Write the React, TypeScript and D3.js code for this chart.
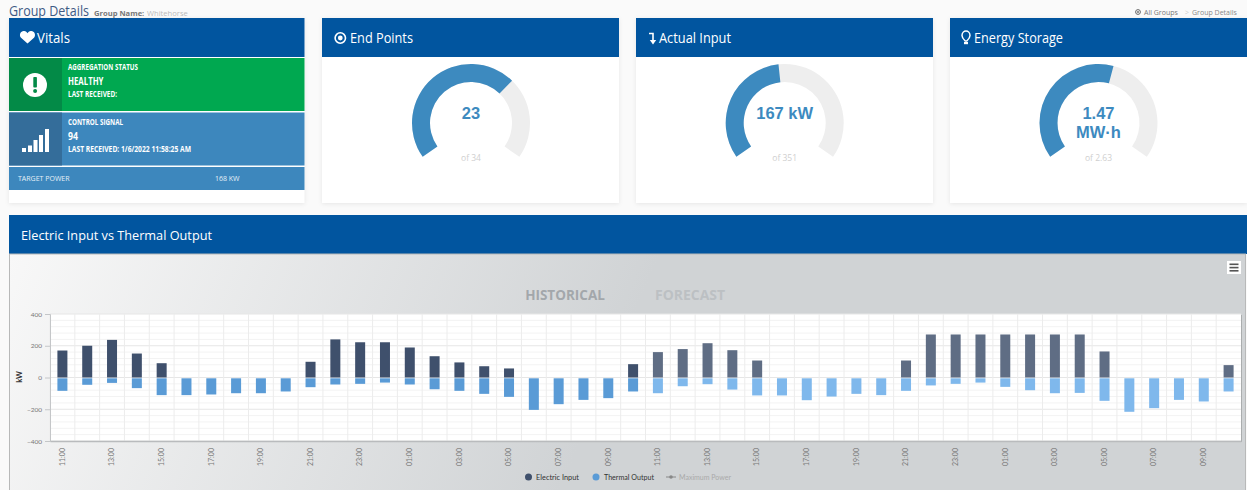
import React, { useEffect, useRef } from 'react';
import * as d3 from 'd3';

// hourly buckets, two days
const hours = [
  '11:00', '12:00', '13:00', '14:00', '15:00', '16:00', '17:00', '18:00', '19:00', '20:00', '21:00', '22:00',
  '23:00', '00:00', '01:00', '02:00', '03:00', '04:00', '05:00', '06:00', '07:00', '08:00', '09:00', '10:00',
  '11:00', '12:00', '13:00', '14:00', '15:00', '16:00', '17:00', '18:00', '19:00', '20:00', '21:00', '22:00',
  '23:00', '00:00', '01:00', '02:00', '03:00', '04:00', '05:00', '06:00', '07:00', '08:00', '09:00', '10:00',
];
const electricInput = [
  170, 200, 237, 151, 90, 0, 0, 0, 0, 0, 99, 240,
  222, 222, 189, 134, 95, 71, 57, 0, 0, 0, 0, 84,
  160, 179, 216, 172, 107, 0, 0, 0, 0, 0, 107, 271,
  271, 271, 271, 271, 271, 271, 164, 0, 0, 0, 0, 78,
];
const thermalOutput = [
  -84, -46, -34, -67, -111, -111, -107, -99, -99, -88, -61, -44,
  -40, -32, -44, -74, -84, -103, -122, -204, -168, -141, -130, -88,
  -99, -55, -42, -76, -113, -113, -143, -120, -103, -111, -84, -50,
  -40, -32, -59, -80, -99, -97, -147, -216, -193, -141, -151, -88,
];
const forecastStart = 24;
const yTicks = [-400, -200, 0, 200, 400];
const yMinorTicks = [-360, -320, -280, -240, -160, -120, -80, -40, 40, 80, 120, 160, 240, 280, 320, 360];

const gaugeValues = [23, 167, 1.47];
const gaugeMax = [34, 351, 2.63];
const gaugeLabels = [['23'], ['167 kW'], ['1.47', 'MW·h']];
const gaugeOfLabels = ['of 34', 'of 351', 'of 2.63'];
const gaugeTitles = ['End Points', 'Actual Input', 'Energy Storage'];

const HEADER = '#01559f';
const GAUGE = '#3d8abf';
const W = 1247;
const H = 490;
const font = '"Open Sans", sans-serif';

const cardX = [322, 636, 950];
const gaugeCx = [471, 784.7, 1098.5];
const titleX = [350, 659, 974];
const titleLen = [63, 72, 89];

function Gauge({ i }: { i: number }) {
  const cy = 123;
  const angle = d3.scaleLinear()
    .domain([0, gaugeMax[i]])
    .range([-125 * Math.PI / 180, 125 * Math.PI / 180]);
  const arc = d3.arc().innerRadius(41).outerRadius(59);
  const lines = gaugeLabels[i];
  return (
    <g>
      <path transform={`translate(${gaugeCx[i]},${cy})`} fill="#eeeeee"
        d={arc({ startAngle: angle(0), endAngle: angle(gaugeMax[i]) } as any) as string} />
      <path transform={`translate(${gaugeCx[i]},${cy})`} fill={GAUGE}
        d={arc({ startAngle: angle(0), endAngle: angle(gaugeValues[i]) } as any) as string} />
      {lines.map((l, k) => (
        <text key={l} x={gaugeCx[i]} y={118.5 + k * 19} textAnchor="middle"
          fontFamily='"Liberation Sans", Arial, sans-serif' fontWeight="bold" fontSize={16.5} fill={GAUGE}>{l}</text>
      ))}
      <text x={gaugeCx[i]} y={161} textAnchor="middle" fontFamily={font} fontSize={8.5} fill="#cfcfcf">{gaugeOfLabels[i]}</text>
    </g>
  );
}

function Card({ x, width, height = 185 }: { x: number; width: number; height?: number }) {
  return (
    <g>
      <rect x={x} y={18} width={width} height={height} fill="#fff" style={{ filter: 'drop-shadow(0 1px 2px rgba(0,0,0,0.08))' }} />
      <rect x={x} y={18} width={width} height={39} fill={HEADER} />
    </g>
  );
}

// squeezed bold label, the vitals tiles use a condensed face we don't have
function Tight({ x, y, size, len, children }: { x: number; y: number; size: number; len: number; children: string }) {
  return (
    <text x={x} y={y} fontFamily={font} fontWeight="bold" fontSize={size} fill="#fff"
      textLength={len} lengthAdjust="spacingAndGlyphs">{children}</text>
  );
}

export default function App() {
  const chartRef = useRef<SVGGElement>(null);

  useEffect(() => {
    const g = d3.select(chartRef.current);
    g.selectAll('*').remove();

    const x = d3.scaleBand<number>().domain(d3.range(hours.length)).range([50, 1241]);
    const y = d3.scaleLinear().domain([-400, 400]).range([441, 314]);
    const barW = 10;

    g.append('rect')
      .attr('x', 50).attr('y', 314).attr('width', 1191).attr('height', 127)
      .attr('fill', '#fff')
      .style('filter', 'drop-shadow(1px 1px 0.5px rgba(0,0,0,0.18))');

    g.selectAll('.minor').data(yMinorTicks).join('line')
      .attr('class', 'minor')
      .attr('x1', 50).attr('x2', 1241)
      .attr('y1', d => y(d)).attr('y2', d => y(d))
      .attr('stroke', '#f3f3f3');
    g.selectAll('.major').data(yTicks).join('line')
      .attr('class', 'major')
      .attr('x1', 50).attr('x2', 1241)
      .attr('y1', d => y(d)).attr('y2', d => y(d))
      .attr('stroke', '#e6e6e6');
    g.selectAll('.vgrid').data(d3.range(hours.length)).join('line')
      .attr('class', 'vgrid')
      .attr('x1', d => x(d)!).attr('x2', d => x(d)!)
      .attr('y1', 314).attr('y2', 441)
      .attr('stroke', '#ececec');

    g.selectAll('.electric').data(electricInput).join('rect')
      .attr('class', 'electric')
      .attr('x', (d, i) => x(i)! + (x.bandwidth() - barW) / 2)
      .attr('y', d => y(d))
      .attr('width', barW)
      .attr('height', d => y(0) - y(d))
      .attr('fill', (d, i) => (i > forecastStart - 1 ? '#5f6d84' : '#3f506c'));

    g.selectAll('.thermal').data(thermalOutput).join('rect')
      .attr('class', 'thermal')
      .attr('x', (d, i) => x(i)! + (x.bandwidth() - barW) / 2)
      .attr('y', y(0) + 0.8)
      .attr('width', barW)
      .attr('height', d => y(d) - y(0) - 0.8)
      .attr('fill', (d, i) => (i > forecastStart - 1 ? '#7fb8ec' : '#5a9bd6'));

    const yAxis = g.append('g')
      .attr('transform', 'translate(50,0)')
      .call(d3.axisLeft(y).tickValues(yTicks).tickSize(5).tickPadding(3));
    yAxis.selectAll('text').attr('font-family', 'Lato, sans-serif').attr('font-size', 6.5).attr('fill', '#777');
    yAxis.selectAll('line').attr('stroke', '#c4c6c8');
    yAxis.select('.domain').attr('stroke', '#c4c6c8');

    const xAxis = g.append('g')
      .attr('transform', 'translate(0,441)')
      .call(d3.axisBottom(x)
        .tickValues(d3.range(0, hours.length, 2))
        .tickFormat(d => hours[d as number])
        .tickSize(0));
    xAxis.select('.domain').attr('stroke', '#b9bbbd').attr('stroke-width', 1.5);
    xAxis.selectAll('text')
      .attr('transform', 'rotate(-90)')
      .attr('x', -7)
      .attr('y', 0)
      .attr('dy', '0.32em')
      .attr('text-anchor', 'end')
      .attr('font-family', 'Lato, sans-serif')
      .attr('font-size', 7)
      .attr('fill', '#777');

    g.append('text')
      .attr('transform', 'translate(22,377) rotate(-90)')
      .attr('text-anchor', 'middle')
      .attr('font-family', 'Lato, sans-serif')
      .attr('font-size', 7.5)
      .attr('font-weight', 'bold')
      .attr('fill', '#333')
      .text('kW');
  }, []);

  return (
    <svg width={W} height={H} viewBox={`0 0 ${W} ${H}`} style={{ position: 'absolute', left: 0, top: 0, display: 'block' }}>
      <defs>
        <linearGradient id="panelBg" gradientUnits="userSpaceOnUse" x1="10" y1="255" x2="560" y2="490">
          <stop offset="0" stopColor="#f8f8f8" />
          <stop offset="1" stopColor="#d0d3d5" />
        </linearGradient>
      </defs>
      <rect width={W} height={H} fill="#fafafa" />

      {/* top line */}
      <text x={9} y={16} fontFamily={font} fontSize={14} fill="#3f5a85" textLength={80} lengthAdjust="spacingAndGlyphs">Group Details</text>
      <text x={94} y={15.5} fontFamily={font} fontSize={7.6} fontWeight="bold" fill="#777">Group Name:</text>
      <text x={147} y={15.5} fontFamily={font} fontSize={7.6} fill="#bbb">Whitehorse</text>
      <circle cx={1138} cy={12} r={2.4} fill="none" stroke="#666" strokeWidth={1} />
      <circle cx={1138} cy={12} r={0.9} fill="#666" />
      <text x={1144} y={15} fontFamily={font} fontSize={7} fill="#777">All Groups</text>
      <text x={1185} y={15} fontFamily={font} fontSize={7} fill="#ccc">&gt;</text>
      <text x={1192} y={15} fontFamily={font} fontSize={7} fill="#888">Group Details</text>

      {/* vitals card */}
      <Card x={9} width={295.5} />
      <path fill="#fff" transform="translate(20,31)" d="M7.5 12.5 L1 6.8 C-1.6 3.4 1.2 -0.6 4.2 0 C5.8 0.2 6.9 1 7.5 2.2 C8.1 1 9.2 0.2 10.8 0 C13.8 -0.6 16.6 3.4 14 6.8 Z" />
      <text x={37} y={43} fontFamily={font} fontSize={14} fill="#fff" textLength={33} lengthAdjust="spacingAndGlyphs">Vitals</text>

      <rect x={9} y={58} width={295.5} height={53} fill="#00a850" />
      <rect x={9} y={58} width={53} height={53} fill="#038a47" />
      <circle cx={35} cy={85} r={12} fill="#fff" />
      <rect x={33.3} y={77} width={3.6} height={10.5} rx={0.8} fill="#038a47" />
      <circle cx={35.1} cy={91} r={2} fill="#038a47" />
      <Tight x={68} y={70} size={8.5} len={70}>AGGREGATION STATUS</Tight>
      <Tight x={68} y={85} size={11} len={35.5}>HEALTHY</Tight>
      <Tight x={68} y={97} size={8.5} len={49}>LAST RECEIVED:</Tight>

      <rect x={9} y={112.5} width={295.5} height={53} fill="#3d87bd" />
      <rect x={9} y={112.5} width={53} height={53} fill="#346d9a" />
      <rect x={22} y={148} width={4} height={4} fill="#fff" />
      <rect x={28} y={145.5} width={4} height={6.5} fill="#fff" />
      <rect x={33.5} y={140} width={4} height={12} fill="#fff" />
      <rect x={39} y={135} width={4} height={17} fill="#fff" />
      <rect x={45} y={129} width={4} height={23} fill="#fff" />
      <Tight x={68} y={124.5} size={8.5} len={55}>CONTROL SIGNAL</Tight>
      <Tight x={68} y={140} size={11} len={10}>94</Tight>
      <Tight x={68} y={151.5} size={8.5} len={123}>LAST RECEIVED: 1/6/2022 11:58:25 AM</Tight>

      <rect x={9} y={167} width={295.5} height={23} fill="#3d87bd" />
      <text x={18} y={180.5} fontFamily={font} fontSize={7} fill="#e6f0f8">TARGET POWER</text>
      <text x={215} y={180.5} fontFamily={font} fontSize={7} fill="#e6f0f8">168 KW</text>

      {/* gauge cards */}
      {cardX.map((x, i) => (
        <g key={x}>
          <Card x={x} width={297} />
          <text x={titleX[i]} y={43} fontFamily={font} fontSize={14} fill="#fff"
            textLength={titleLen[i]} lengthAdjust="spacingAndGlyphs">{gaugeTitles[i]}</text>
          <Gauge i={i} />
        </g>
      ))}
      {/* end points icon */}
      <circle cx={340.3} cy={38} r={5.2} fill="none" stroke="#fff" strokeWidth={1.6} />
      <circle cx={340.3} cy={38} r={2.4} fill="#fff" />
      {/* actual input icon */}
      <path d="M649 33.5 H653 V41" fill="none" stroke="#fff" strokeWidth={1.6} />
      <path d="M649.8 40 L653 44.5 L656.2 40 Z" fill="#fff" />
      {/* energy storage icon */}
      <path d="M965.2 41 C963 39 962 37.5 962 35.5 C962 32.8 964 31 966 31 C968 31 970 32.8 970 35.5 C970 37.5 969 39 966.8 41 Z" fill="none" stroke="#fff" strokeWidth={1.5} />
      <rect x={964} y={42} width={4} height={2.2} fill="#fff" />

      {/* chart panel */}
      <rect x={9} y={215} width={1238} height={39} fill={HEADER} />
      <text x={21} y={240} fontFamily={font} fontSize={13.5} fill="#fff" textLength={191} lengthAdjust="spacingAndGlyphs">Electric Input vs Thermal Output</text>
      <rect x={9.5} y={254} width={1236} height={240} fill="url(#panelBg)" stroke="#b8b9b9" />

      <text x={565} y={300} textAnchor="middle" fontFamily={font} fontWeight="bold" fontSize={13.5} fill="#a3a7ab">HISTORICAL</text>
      <text x={690} y={300} textAnchor="middle" fontFamily={font} fontWeight="bold" fontSize={13.5} fill="#bcc0c3" textLength={70} lengthAdjust="spacingAndGlyphs">FORECAST</text>

      <rect x={1227} y={261} width={14} height={13} fill="#fff" />
      <rect x={1229.5} y={263.5} width={9} height={1.6} fill="#555" />
      <rect x={1229.5} y={266.8} width={9} height={1.6} fill="#555" />
      <rect x={1229.5} y={270} width={9} height={1.6} fill="#555" />

      <g ref={chartRef} />

      {/* legend */}
      <circle cx={528.5} cy={477} r={3.5} fill="#3f506c" />
      <text x={536} y={480} fontFamily="Lato, sans-serif" fontSize={7.5} fill="#333" textLength={43} lengthAdjust="spacingAndGlyphs">Electric Input</text>
      <circle cx={596} cy={477} r={3.5} fill="#5a9bd6" />
      <text x={604} y={480} fontFamily="Lato, sans-serif" fontSize={7.5} fill="#333" textLength={50} lengthAdjust="spacingAndGlyphs">Thermal Output</text>
      <line x1={666} x2={676} y1={477} y2={477} stroke="#888" strokeWidth={1} />
      <circle cx={671} cy={477} r={1.8} fill="#888" />
      <text x={679} y={480} fontFamily="Lato, sans-serif" fontSize={7.5} fill="#aaa" textLength={52} lengthAdjust="spacingAndGlyphs">Maximum Power</text>
    </svg>
  );
}
